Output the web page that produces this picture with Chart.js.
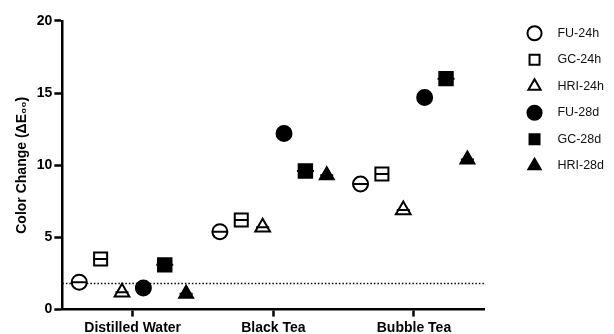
<!DOCTYPE html>
<html>
<head>
<meta charset="utf-8">
<script src="https://cdn.jsdelivr.net/npm/chart.js@4.4.0/dist/chart.umd.min.js"></script>
<style>
html, body { margin: 0; padding: 0; background: #fff; }
#wrap { width: 614px; height: 334px; }
</style>
</head>
<body>
<div id="wrap"><canvas id="grafica"></canvas></div>
<script>
// datos
var categorias = ["Distilled Water", "Black Tea", "Bubble Tea"];
var nombres = ["FU-24h", "GC-24h", "HRI-24h", "FU-28d", "GC-28d", "HRI-28d"];
var fu24h = [1.9, 5.4, 8.7];
var gc24h = [3.5, 6.2, 9.4];
var hri24h = [1.2, 5.7, 6.9];
var fu28d = [1.5, 12.2, 14.7];
var gc28d = [3.1, 9.6, 16.0];
var hri28d = [1.1, 9.3, 10.4];
var umbral = 1.8;
var yTicks = [0, 5, 10, 15, 20];

var valores = [fu24h, gc24h, hri24h, fu28d, gc28d, hri28d];
var estilos = [
    { forma: "circle", r: 7.5, lleno: false, linea: 7.5 },
    { forma: "rect", r: 9.2, lleno: false, linea: 7 },
    { forma: "triangle", r: 8.5, lleno: false, linea: 6.5 },
    { forma: "circle", r: 7.5, lleno: true, linea: 7.5 },
    { forma: "rect", r: 9.5, lleno: true, linea: 8.5 },
    { forma: "triangle", r: 8, lleno: true, linea: 6.5 }
];
var sep = 0.152;

Chart.defaults.font.family = "'Liberation Sans', Arial, sans-serif";
Chart.defaults.color = "#000";

var datasets = [];
valores.forEach(function(serie, s) {
    var puntos = serie.map(function(v, i) {
        return { x: i + (s - 2.5) * sep, y: v };
    });
    var e = estilos[s];
    datasets.push({
        label: nombres[s],
        data: puntos,
        pointStyle: e.forma,
        pointRadius: e.r,
        pointBackgroundColor: e.lleno ? "#000" : "#fff",
        backgroundColor: e.lleno ? "#000" : "#fff",
        borderColor: "#000",
        pointBorderWidth: 2,
        borderWidth: 2,
        showLine: false,
        order: 1
    });
    // linea horizontal de la media / error
    datasets.push({
        label: "_" + nombres[s],
        data: puntos,
        pointStyle: "line",
        pointRadius: e.linea,
        borderColor: "#000",
        pointBorderWidth: 2,
        borderWidth: 2,
        showLine: false,
        order: 0
    });
});
datasets.push({
    type: "line",
    label: "_umbral",
    data: [{ x: -0.5, y: umbral }, { x: categorias.length - 0.5, y: umbral }],
    borderColor: "#000",
    borderWidth: 1.5,
    borderDash: [1.5, 2],
    pointRadius: 0,
    order: 3
});

var ctx = document.getElementById("grafica").getContext("2d");
var grafica = new Chart(ctx, {
    type: "scatter",
    data: { datasets: datasets },
    options: {
        responsive: true,
        maintainAspectRatio: false,
        animation: false,
        layout: { padding: { left: 10, top: 13, right: 0, bottom: -6 } },
        plugins: {
            tooltip: { enabled: false },
            legend: {
                position: "right",
                align: "start",
                labels: {
                    usePointStyle: true,
                    boxHeight: 10,
                    padding: 14,
                    color: "#111",
                    font: { size: 12.5 },
                    filter: function(item) { return item.text.indexOf("_") !== 0; },
                    generateLabels: function(chart) {
                        var items = Chart.defaults.plugins.legend.labels.generateLabels(chart);
                        return items.map(function(it) {
                            if (it.text.indexOf("_") !== 0) it.text = "   " + it.text;
                            return it;
                        });
                    }
                }
            }
        },
        scales: {
            x: {
                type: "linear",
                min: -0.5,
                max: categorias.length - 0.5,
                afterBuildTicks: function(scale) {
                    scale.ticks = categorias.map(function(c, i) { return { value: i }; });
                },
                ticks: {
                    callback: function(v) { return categorias[v]; },
                    font: { size: 14, weight: "bold", lineHeight: 1.1 },
                    color: "#000",
                    padding: 4,
                    maxRotation: 0
                },
                grid: { drawOnChartArea: false, tickLength: 7, tickWidth: 2.5, tickColor: "#000" },
                border: { display: true, width: 2.5, color: "#000" }
            },
            y: {
                min: 0,
                max: 20,
                afterBuildTicks: function(scale) {
                    scale.ticks = yTicks.map(function(v) { return { value: v }; });
                },
                ticks: { font: { size: 14, weight: "bold", lineHeight: 2.7 }, color: "#000", padding: 2 },
                grid: { drawOnChartArea: false, tickLength: 8, tickWidth: 2.5, tickColor: "#000" },
                border: { display: true, width: 2.5, color: "#000" },
                title: {
                    display: true,
                    text: "Color Change (ΔE₀₀)",
                    font: { size: 14, weight: "bold" },
                    color: "#000",
                    padding: 4
                }
            },
            hueco: {
                position: "right",
                axis: "y",
                display: true,
                grid: { display: false },
                border: { display: false },
                ticks: { display: false },
                afterFit: function(scale) { scale.width = 30; }
            }
        }
    }
});
</script>
</body>
</html>
